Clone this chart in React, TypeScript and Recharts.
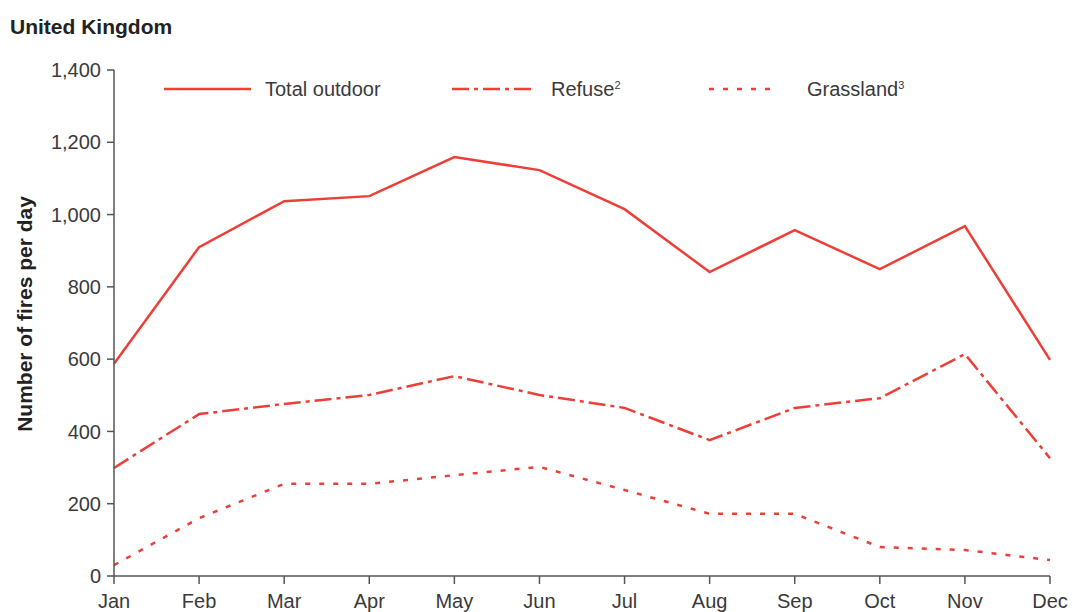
import React from "react";
import { LineChart, Line, XAxis, YAxis } from "recharts";

const months = ["Jan", "Feb", "Mar", "Apr", "May", "Jun", "Jul", "Aug", "Sep", "Oct", "Nov", "Dec"];
const totalOutdoor = [587, 910, 1037, 1051, 1159, 1123, 1015, 841, 957, 849, 968, 598];
const refuse = [299, 448, 476, 501, 553, 501, 465, 376, 465, 492, 614, 326];
const grassland = [30, 160, 255, 255, 279, 302, 238, 172, 172, 80, 72, 44];
const yTicks = [0, 200, 400, 600, 800, 1000, 1200, 1400];

const data = months.map((m, i) => ({
  month: m,
  total: totalOutdoor[i],
  refuse: refuse[i],
  grassland: grassland[i],
}));

const RED = "#ec3f37";
const FONT = "'Liberation Sans', Arial, Helvetica, sans-serif";
const TXT = "#3a3a3a";
const AXIS = "#555555";

const legendItems = [
  { lineX: 164, lineW: 87, textX: 265, dash: undefined as string | undefined, label: "Total outdoor", sup: "" },
  { lineX: 452, lineW: 84, textX: 551, dash: "17 5 4 5", label: "Refuse", sup: "2" },
  { lineX: 709, lineW: 70, textX: 807, dash: "5 9", label: "Grassland", sup: "3" },
];

const CustomLegend = () => (
  <div style={{ position: "absolute", left: 0, top: 74, width: 1072, height: 30, fontFamily: FONT }}>
    {legendItems.map((it) => (
      <React.Fragment key={it.label}>
        <svg style={{ position: "absolute", left: it.lineX, top: 0 }} width={it.lineW} height={30}>
          <line x1={0} y1={15} x2={it.lineW} y2={15} stroke={RED} strokeWidth={2.5} strokeDasharray={it.dash} />
        </svg>
        <span
          style={{
            position: "absolute",
            left: it.textX,
            top: 0,
            lineHeight: "30px",
            fontSize: 20,
            color: TXT,
            whiteSpace: "nowrap",
          }}
        >
          {it.label}
          {it.sup && <sup style={{ fontSize: 11, verticalAlign: "top", lineHeight: "22px" }}>{it.sup}</sup>}
        </span>
      </React.Fragment>
    ))}
  </div>
);

const YLabel = (props: any) => {
  const vb = props.viewBox || {};
  const cy = (vb.y ?? 70) + (vb.height ?? 506) / 2 - 9;
  return (
    <text
      x={24}
      y={cy}
      transform={`rotate(-90, 24, ${cy})`}
      textAnchor="middle"
      dominantBaseline="central"
      style={{ fontSize: 21, fontWeight: "bold", fill: "#222", fontFamily: FONT }}
    >
      Number of fires per day
    </text>
  );
};

export default function App() {
  return (
    <div style={{ position: "absolute", left: 0, top: 0, width: 1072, height: 612, background: "#fff", fontFamily: FONT }}>
      <div
        style={{
          position: "absolute",
          left: 10,
          top: 15,
          fontSize: 21,
          lineHeight: "24px",
          fontWeight: "bold",
          color: "#222",
          whiteSpace: "nowrap",
        }}
      >
        United Kingdom
      </div>
      <LineChart
        width={1072}
        height={612}
        data={data}
        margin={{ top: 70, right: 22, bottom: 0, left: 0 }}
      >
        <XAxis
          dataKey="month"
          height={36}
          tickSize={8}
          tickMargin={10}
          axisLine={{ stroke: AXIS, strokeWidth: 1.5 }}
          tickLine={{ stroke: AXIS, strokeWidth: 1.5 }}
          tick={{ fill: TXT, fontSize: 20, fontFamily: FONT }}
          interval={0}
        />
        <YAxis
          width={114}
          domain={[0, 1400]}
          ticks={yTicks}
          tickSize={7}
          tickMargin={6}
          axisLine={{ stroke: AXIS, strokeWidth: 1.5 }}
          tickLine={{ stroke: AXIS, strokeWidth: 1.5 }}
          tick={{ fill: TXT, fontSize: 20, fontFamily: FONT }}
          tickFormatter={(v: number) => v.toLocaleString("en-US")}
          label={{ content: (p: any) => <YLabel {...p} /> }}
        />
        <Line type="linear" dataKey="total" stroke={RED} strokeWidth={2.5} dot={false} isAnimationActive={false} />
        <Line type="linear" dataKey="refuse" stroke={RED} strokeWidth={2.5} strokeDasharray="17 5 4 5" dot={false} isAnimationActive={false} />
        <Line type="linear" dataKey="grassland" stroke={RED} strokeWidth={2.5} strokeDasharray="5 9" dot={false} isAnimationActive={false} />
      </LineChart>
      <CustomLegend />
    </div>
  );
}
